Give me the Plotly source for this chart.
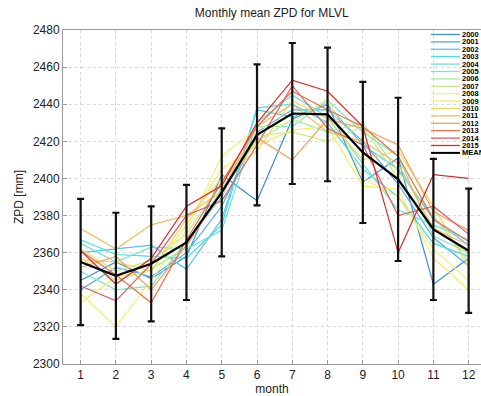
import plotly.graph_objects as go

months = [1, 2, 3, 4, 5, 6, 7, 8, 9, 10, 11, 12]
years = ["2000", "2001", "2002", "2003", "2004", "2005", "2006", "2007",
         "2008", "2009", "2010", "2011", "2012", "2013", "2014", "2015"]

y2000 = [2345, 2355, 2346, 2358, 2402, 2388, 2432, 2440, 2398, 2411, 2343, 2357]
y2001 = [2340, 2352, 2347, 2360, 2385, 2425, 2437, 2437, 2420, 2397, 2368, 2353]
y2002 = [2360, 2362, 2364, 2351, 2378, 2437, 2433, 2440, 2418, 2405, 2378, 2364]
y2003 = [2367, 2359, 2358, 2357, 2375, 2438, 2440, 2430, 2405, 2390, 2365, 2358]
y2004 = [2365, 2355, 2363, 2362, 2372, 2430, 2445, 2433, 2408, 2383, 2375, 2367]
y2005 = [2350, 2340, 2342, 2366, 2390, 2428, 2428, 2442, 2425, 2412, 2369, 2360]
y2006 = [2357, 2345, 2351, 2363, 2395, 2420, 2432, 2425, 2430, 2404, 2380, 2355]
y2007 = [2362, 2350, 2356, 2370, 2398, 2423, 2425, 2420, 2428, 2400, 2374, 2359]
y2008 = [2338, 2320, 2345, 2372, 2412, 2427, 2430, 2443, 2400, 2390, 2362, 2345]
y2009 = [2333, 2347, 2350, 2375, 2405, 2418, 2426, 2428, 2396, 2394, 2357, 2340]
y2010 = [2356, 2355, 2350, 2378, 2400, 2415, 2442, 2432, 2410, 2415, 2385, 2352]
y2011 = [2373, 2362, 2375, 2380, 2393, 2428, 2440, 2425, 2420, 2408, 2373, 2364]
y2012 = [2352, 2358, 2340, 2364, 2392, 2422, 2410, 2432, 2427, 2418, 2382, 2372]
y2013 = [2361, 2348, 2333, 2367, 2398, 2428, 2447, 2437, 2428, 2412, 2378, 2366]
y2014 = [2342, 2334, 2354, 2380, 2388, 2418, 2450, 2427, 2418, 2380, 2385, 2370]
y2015 = [2361, 2343, 2357, 2385, 2396, 2430, 2453, 2447, 2428, 2360, 2402, 2400]

mean_zpd = [2355, 2347.5, 2354, 2365.5, 2392.5, 2423.5, 2435, 2434.5, 2414, 2399.5, 2372.5, 2361]
std_zpd = [34, 34, 31, 31, 34.5, 38, 38, 36, 38, 44, 38, 33.5]

series = [y2000, y2001, y2002, y2003, y2004, y2005, y2006, y2007,
          y2008, y2009, y2010, y2011, y2012, y2013, y2014, y2015]

colors = ["#3d8fdc", "#55a8ea", "#55c4ec", "#45dcea", "#66e2dc", "#7ee8c4",
          "#a6eaa0", "#c6ee80", "#eef07a", "#f6ee5e", "#f6d45e", "#f6b85e",
          "#f5a060", "#ee7044", "#e45a62", "#e02a2a"]

fig = go.Figure()

for name, vals, c in zip(years, series, colors):
    fig.add_trace(go.Scatter(x=months, y=vals, mode="lines", name=name,
                             line=dict(color=c, width=1.2), showlegend=False))

fig.add_trace(go.Scatter(
    x=months, y=mean_zpd, mode="lines", name="MEAN",
    line=dict(color="black", width=2.2),
    error_y=dict(type="data", array=std_zpd, visible=True, color="#111111",
                 thickness=2.2, width=3.5),
    showlegend=False))

# manual compact legend (paper coordinates)
shapes = [dict(type="rect", xref="paper", yref="paper", x0=0.875, x1=1.0,
               y0=0.605, y1=1.0, fillcolor="white", line=dict(width=0),
               layer="between")]
annotations = []
top_px = 34.5
step_px = 7.4
plot_top = 30
plot_h = 334
labels = years + ["MEAN"]
lcols = colors + ["black"]
for i, (lab, c) in enumerate(zip(labels, lcols)):
    ypx = top_px + i * step_px
    yp = 1 - (ypx - plot_top) / plot_h
    shapes.append(dict(type="line", xref="paper", yref="paper",
                       x0=(431 - 63) / 418, x1=(460 - 63) / 418, y0=yp, y1=yp,
                       line=dict(color=c, width=2 if lab == "MEAN" else 1.3),
                       layer="above"))
    annotations.append(dict(xref="paper", yref="paper", x=(461 - 63) / 418,
                            y=yp, text="<b>" + lab + "</b>", showarrow=False,
                            xanchor="left", yanchor="middle", borderpad=0,
                            font=dict(size=7.5, color="black",
                                      family="Liberation Sans")))

fig.update_layout(
    width=481, height=396,
    margin=dict(l=63, r=0, t=30, b=32, autoexpand=False),
    paper_bgcolor="white", plot_bgcolor="white",
    font=dict(family="Liberation Sans, Arial, sans-serif", size=12, color="#222"),
    title=dict(text="Monthly mean ZPD for MLVL", x=0.565, xanchor="center",
               y=0.967, yanchor="middle", font=dict(size=12, color="#222")),
    shapes=shapes, annotations=annotations,
)

fig.update_xaxes(range=[0.5, 12.35], tickmode="array", tickvals=months,
                 showgrid=True, gridcolor="#d8d8d8", griddash="dot", gridwidth=1,
                 showline=True, linecolor="#9a9a9a", linewidth=1, mirror=True,
                 ticks="inside", ticklen=4, tickcolor="#9a9a9a",
                 title=dict(text="month", standoff=0, font=dict(size=12)),
                 zeroline=False, automargin=False)
fig.update_yaxes(range=[2300, 2480], tickmode="array",
                 tickvals=[2300, 2320, 2340, 2360, 2380, 2400, 2420, 2440, 2460, 2480],
                 showgrid=True, gridcolor="#d8d8d8", griddash="dot", gridwidth=1,
                 showline=True, linecolor="#9a9a9a", linewidth=1, mirror=True,
                 ticks="inside", ticklen=4, tickcolor="#9a9a9a",
                 title=dict(text="ZPD [mm]", standoff=6, font=dict(size=12)),
                 zeroline=False, automargin=False)

fig.write_html("out.html", config={"displayModeBar": False},
               post_script="document.body.style.margin='0';document.body.style.padding='0';")
